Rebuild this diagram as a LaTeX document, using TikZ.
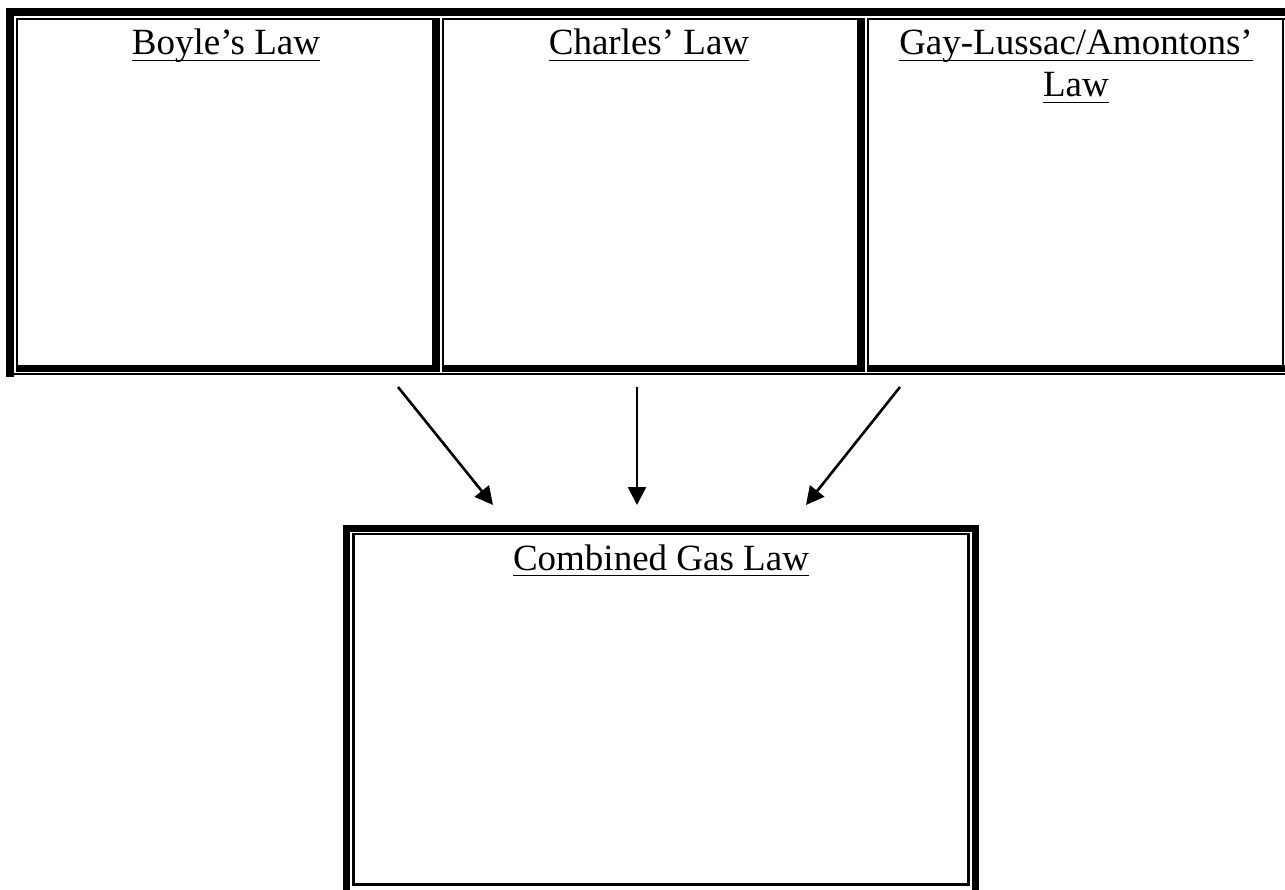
\documentclass[tikz,border=0pt]{standalone}
\usepackage{fontspec}
\setmainfont{Liberation Serif}
\usetikzlibrary{arrows.meta}
\begin{document}
\begin{tikzpicture}[x=1pt,y=-1pt,
  txt/.style={font=\fontsize{37}{44}\selectfont, inner sep=0pt, anchor=base},
  uline/.style={line width=1.8pt},
  bar/.style={fill=black, draw=none},
  conn/.style={line width=2.6pt, -{Triangle[length=18pt,width=18pt]}},
  thickframe/.style={draw=black, line width=7pt},
  thinframe/.style={draw=black, line width=2.5pt}]
\useasboundingbox (0,0) rectangle (1285,890);
\clip (0,0) rectangle (1285,890);
% ---- top table: outer border
\fill[bar] (6,8) rectangle (1285,16);
\fill[bar] (6,8) rectangle (14,377);
\fill[bar] (14,373.3) rectangle (1285,375.3);
% cell 1
\fill[bar] (16,18) rectangle (18,372);
\fill[bar] (16,18) rectangle (440,20);
\fill[bar] (432,18) rectangle (440,372);
\fill[bar] (16,365) rectangle (440,372);
% cell 2
\fill[bar] (442,18) rectangle (444,372);
\fill[bar] (442,18) rectangle (865,20);
\fill[bar] (857,18) rectangle (865,372);
\fill[bar] (442,365) rectangle (865,372);
% cell 3
\fill[bar] (867,18) rectangle (869,372);
\fill[bar] (867,18) rectangle (1285,20);
\fill[bar] (1282,18) rectangle (1284,372);
\fill[bar] (867,365) rectangle (1285,372);
% ---- cell titles
\node[txt] (boyle) at (226,55) {Boyle’s Law};
\node[txt] (charles) at (649,55) {Charles’ Law};
\node[txt] (gay) at (1076,55) {Gay-Lussac/Amontons’};
\node[txt] (gaylaw) at (1076,97) {Law};
\foreach \n in {boyle,charles,gay,gaylaw}
  \draw[uline] ([yshift=-5.5pt]\n.base west) -- ([yshift=-5.5pt]\n.base east);
% ---- bottom box
\draw[thickframe] (346.5,528) rectangle (975.5,900);
\draw[thinframe] (353.5,534) rectangle (968.5,884.5);
\node[txt] (combined) at (661,570) {Combined Gas Law};
\draw[uline] ([yshift=-5.5pt]combined.base west) -- ([yshift=-5.5pt]combined.base east);
% ---- connectors
\coordinate (s1) at (398,387);
\coordinate (s2) at (637,387);
\coordinate (s3) at (900,387);
\coordinate (e1) at (493,505);
\coordinate (e2) at (637,505);
\coordinate (e3) at (806,505);
\draw[conn] (s1) -- (e1);
\draw[conn] (s2) -- (e2);
\draw[conn] (s3) -- (e3);
\end{tikzpicture}
\end{document}
